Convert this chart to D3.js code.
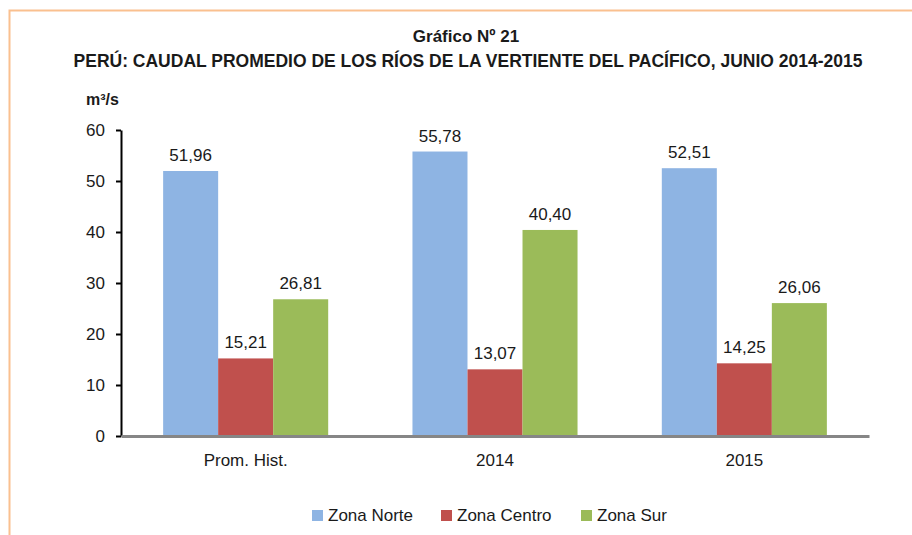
<!DOCTYPE html>
<html>
<head>
    <meta charset="utf-8">
    <script src="https://d3js.org/d3.v7.min.js"></script>
    <style>
        body { margin: 0; background: #fff; }
        text { font-family: "Liberation Sans Narrow", "Arial Narrow", "Liberation Sans", sans-serif; fill: #1a1a1a; }
    </style>
</head>
<body>
<svg id="chart" width="912" height="535"></svg>
<script>
    // data
    var categories = ["Prom. Hist.", "2014", "2015"];
    var series = ["Zona Norte", "Zona Centro", "Zona Sur"];
    var zonaNorte = [51.96, 55.78, 52.51];
    var zonaCentro = [15.21, 13.07, 14.25];
    var zonaSur = [26.81, 40.40, 26.06];
    var yTicks = [0, 10, 20, 30, 40, 50, 60];
    var colors = ["#8EB4E3", "#C0504D", "#9BBB59"];

    var values = [zonaNorte, zonaCentro, zonaSur];
    var rows = categories.map(function (c, i) {
        return { cat: c, vals: series.map(function (s, j) { return { s: s, v: values[j][i] }; }) };
    });

    var svg = d3.select("#chart");

    // orange frame (cropped at right/bottom)
    svg.append("rect")
        .attr("x", 9.5).attr("y", 10.5)
        .attr("width", 920).attr("height", 600)
        .attr("fill", "none")
        .attr("stroke", "#FAC08F")
        .attr("stroke-width", 2);

    svg.append("text")
        .attr("x", 466).attr("y", 42)
        .attr("text-anchor", "middle")
        .style("font-weight", "bold").style("font-size", "17px")
        .text("Gráfico Nº 21");
    svg.append("text")
        .attr("x", 468).attr("y", 67)
        .attr("text-anchor", "middle")
        .style("font-weight", "bold").style("font-size", "17.5px")
        .text("PERÚ: CAUDAL PROMEDIO DE LOS RÍOS DE LA VERTIENTE DEL PACÍFICO, JUNIO 2014-2015");
    svg.append("text")
        .attr("x", 86).attr("y", 105)
        .style("font-weight", "bold").style("font-size", "16px")
        .text("m³/s");

    var margin = { left: 121, top: 130, right: 869, bottom: 436 };

    var x0 = d3.scaleBand()
        .domain(categories)
        .range([margin.left, margin.right])
        .paddingInner(0.338).paddingOuter(0.169);
    var x1 = d3.scaleBand()
        .domain(series)
        .range([0, x0.bandwidth()]);
    var y = d3.scaleLinear()
        .domain([0, 60])
        .range([margin.bottom, margin.top]);
    var color = d3.scaleOrdinal().domain(series).range(colors);

    // y axis
    var yAxis = svg.append("g")
        .attr("transform", "translate(" + margin.left + ",0)")
        .call(d3.axisLeft(y).tickValues(yTicks).tickSize(5).tickPadding(11).tickSizeOuter(0));
    yAxis.select(".domain").attr("stroke", "#000").attr("stroke-width", 2);
    yAxis.selectAll(".tick line").attr("stroke", "#000").attr("stroke-width", 2);
    yAxis.selectAll(".tick text").style("font-size", "17px")
        .style("font-family", "'Liberation Sans Narrow', 'Arial Narrow', sans-serif").attr("fill", "#1a1a1a");

    // bars
    var groups = svg.append("g").selectAll("g")
        .data(rows)
        .enter().append("g")
        .attr("transform", function (d) { return "translate(" + x0(d.cat) + ",0)"; });

    groups.selectAll("rect")
        .data(function (d) { return d.vals; })
        .enter().append("rect")
        .attr("x", function (d) { return x1(d.s); })
        .attr("y", function (d) { return y(d.v); })
        .attr("width", x1.bandwidth())
        .attr("height", function (d) { return y(0) - y(d.v); })
        .attr("fill", function (d) { return color(d.s); });

    groups.selectAll("text.val")
        .data(function (d) { return d.vals; })
        .enter().append("text")
        .attr("class", "val")
        .attr("x", function (d) { return x1(d.s) + x1.bandwidth() / 2; })
        .attr("y", function (d) { return y(d.v) - 10; })
        .attr("text-anchor", "middle")
        .style("font-size", "17px")
        .text(function (d) { return d.v.toFixed(2).replace(".", ","); });

    // x axis
    var xAxis = svg.append("g")
        .attr("transform", "translate(0," + margin.bottom + ")")
        .call(d3.axisBottom(x0).tickSize(0).tickPadding(18).tickSizeOuter(0));
    xAxis.select(".domain").attr("stroke", "#868686").attr("stroke-width", 3);
    xAxis.selectAll(".tick text").style("font-size", "17px")
        .style("font-family", "'Liberation Sans Narrow', 'Arial Narrow', sans-serif").attr("fill", "#1a1a1a");

    // legend
    var legendX = [312, 441, 581];
    var legend = svg.append("g").selectAll("g")
        .data(series)
        .enter().append("g")
        .attr("transform", function (d, i) { return "translate(" + legendX[i] + ",510)"; });
    legend.append("rect")
        .attr("width", 11).attr("height", 11)
        .attr("fill", function (d) { return color(d); });
    legend.append("text")
        .attr("x", 16).attr("y", 11)
        .style("font-size", "17px")
        .text(function (d) { return d; });
</script>
</body>
</html>
